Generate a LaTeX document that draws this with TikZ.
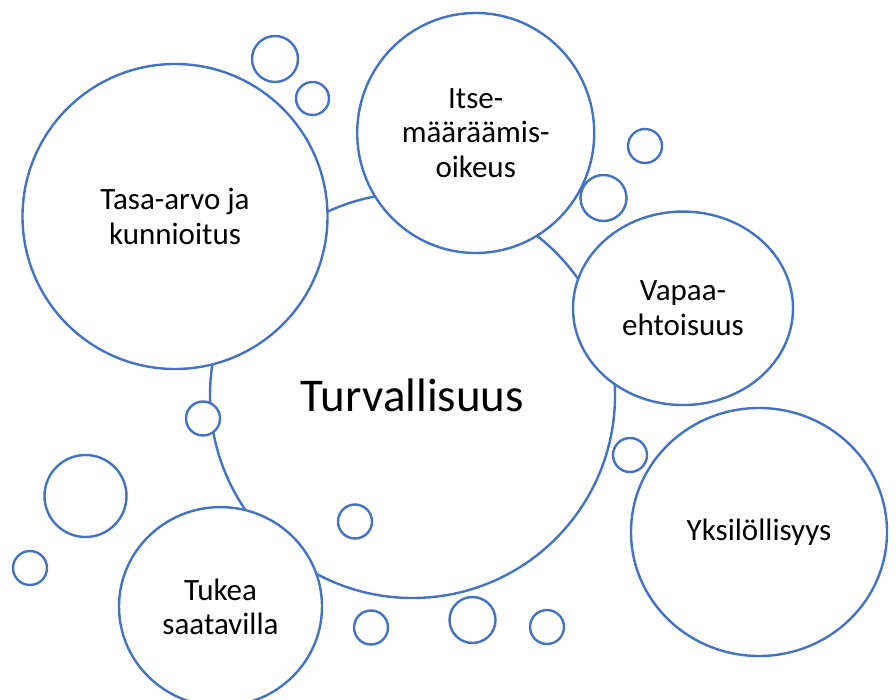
\documentclass[tikz,border=0pt]{standalone}
\usepackage{fontspec}
\setmainfont{Carlito}
\usetikzlibrary{shapes.geometric}
\definecolor{cblue}{HTML}{4472C4}
\tikzset{
  bub/.style={circle, draw=cblue, line width=2.4pt, fill=white, inner sep=0pt, align=center, text=black},
  ebub/.style={ellipse, draw=cblue, line width=2.4pt, fill=white, inner sep=0pt, align=center, text=black},
  lbl/.style={font=\fontsize{31}{34.5}\selectfont},
  biglbl/.style={font=\fontsize{47}{50}\selectfont}
}
\begin{document}
\begin{tikzpicture}[x=1pt,y=-1pt]
\useasboundingbox (0,0) rectangle (896,700);
% central circle
\node (turva) [bub, biglbl, minimum size=405] at (412.5,395.5) {Turvallisuus};
% main bubbles
\node (tasa) [bub, lbl, minimum size=305] at (175,216.5) {Tasa-arvo ja\\kunnioitus};
\node (itse) [ebub, lbl, minimum width=237, minimum height=240] at (475.7,133) {Itse-\\määräämis-\\oikeus};
\node (vapaa) [ebub, lbl, minimum width=220, minimum height=193.5] at (683,308.3) {Vapaa-\\ehtoisuus};
\node (yksi) [ebub, lbl, minimum width=256, minimum height=248] at (759,532) {Yksilöllisyys};
\node (tukea) [ebub, lbl, minimum width=203, minimum height=199] at (220.5,606.6) {Tukea\\saatavilla};
% small bubbles
\node (s1) [bub, minimum size=46] at (275,59) {};
\node (s2) [bub, minimum size=33] at (312.5,98.5) {};
\node (s3) [bub, minimum size=34] at (645,146) {};
\node (s4) [bub, minimum size=46] at (603.5,198) {};
\node (s5) [bub, minimum size=34] at (203,418.5) {};
\node (s6) [bub, minimum size=82] at (85.5,496) {};
\node (s7) [bub, minimum size=34] at (30,568) {};
\node (s8) [bub, minimum size=34] at (355,521.5) {};
\node (s9) [bub, minimum size=34] at (371,627.5) {};
\node (s10) [bub, minimum size=34] at (630,455) {};
\node (s11) [bub, minimum size=46] at (472.5,620) {};
\node (s12) [bub, minimum size=34] at (547,627) {};
\end{tikzpicture}
\end{document}
